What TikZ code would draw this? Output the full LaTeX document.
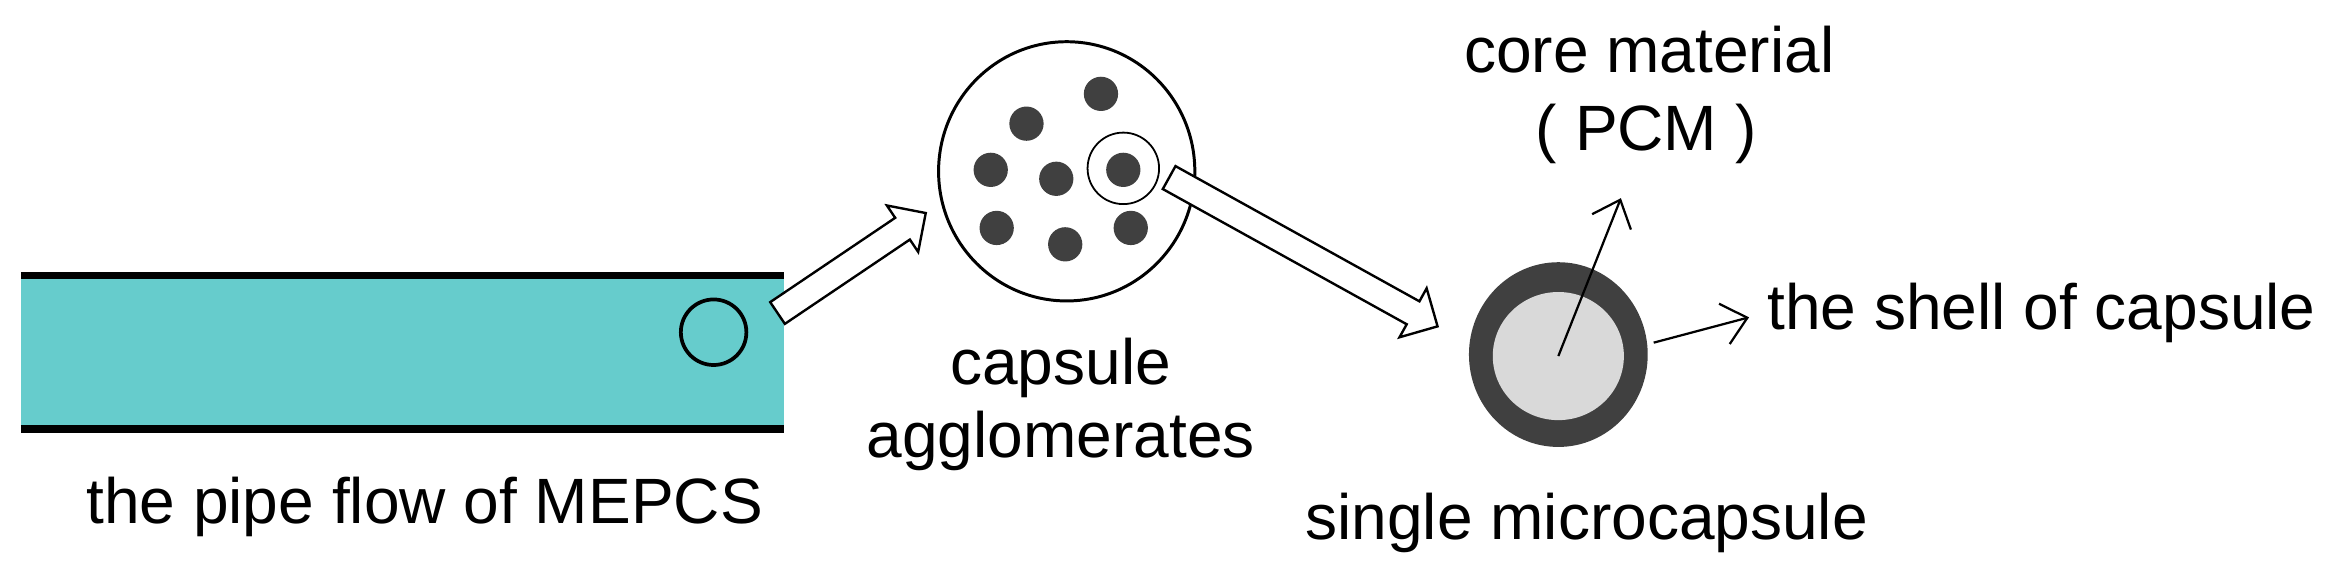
\documentclass[tikz,border=0pt]{standalone}
\usepackage{fontspec}
\setmainfont{Liberation Sans}
\usetikzlibrary{shapes.arrows,shapes.geometric,arrows.meta}
\definecolor{teal}{HTML}{66CCCC}
\definecolor{dot}{HTML}{404040}
\begin{document}
\begin{tikzpicture}[x=1pt,y=-1pt,
  lbl/.style={font=\fontsize{43}{48}\selectfont, inner sep=0},
  fat/.style={single arrow, draw, line width=1.6pt, fill=white, inner sep=0pt, text height=8pt, text depth=8pt, single arrow head extend=10pt, single arrow head indent=0pt},
  blob/.style={circle, fill=dot, minimum size=23pt, inner sep=0},
  thin/.style={-{Straight Barb[length=16pt,width=28pt]}, line width=1.5pt}]
\useasboundingbox (0,0) rectangle (1568,383);
% pipe
\fill[teal] (14,185) rectangle (526,288);
\draw[line width=5pt] (14,185) -- (526,185) (14,288) -- (526,288);
\node[draw, line width=2.5pt, ellipse, minimum width=44pt, minimum height=44pt, inner sep=0] (spot) at (479,223) {};
\node[lbl] (pipe) at (285,340) {the pipe flow of MEPCS};
% arrow 1
\node[fat, minimum height=120pt, rotate=34] (a1) at (568,179) {};
% agglomerate
\node[draw, line width=2pt, ellipse, minimum width=172pt, minimum height=174pt, inner sep=0] (agg) at (716,115) {};
\foreach \n/\x/\y in {d1/739/63,d2/689/83,d3/665/114,d4/709/120,d5/754/114,d6/669/153,d7/715/164,d8/759/153}
  \node[blob] (\n) at (\x,\y) {};
\node[draw, line width=1.2pt, circle, minimum size=48pt, inner sep=0] (sel) at (754,113) {};
\node[lbl] (cap) at (712,247) {capsule};
\node[lbl] (agl) at (712,296) {agglomerates};
% arrow 2
\node[fat, minimum height=206pt, rotate=-29] (a2) at (871,167) {};
% microcapsule
\node[ellipse, fill=dot, minimum width=120pt, minimum height=124pt, inner sep=0] (shell) at (1046,238) {};
\node[ellipse, fill=gray!30, minimum width=88pt, minimum height=86pt, inner sep=0] (core) at (1046,239) {};
\coordinate (ctip) at (1088,133);
\coordinate (stip) at (1174,213);
\draw[thin] (core.center) -- (ctip);
\draw[thin] (1110,230) -- (stip);
\node[lbl] (cm) at (1107,33) {core material};
\node[lbl] (pcm) at (1105,90) {( PCM )};
\node[lbl, anchor=west] (sh) at (1186,210) {the shell of capsule};
\node[lbl] (single) at (1065,351) {single microcapsule};
\end{tikzpicture}
\end{document}
